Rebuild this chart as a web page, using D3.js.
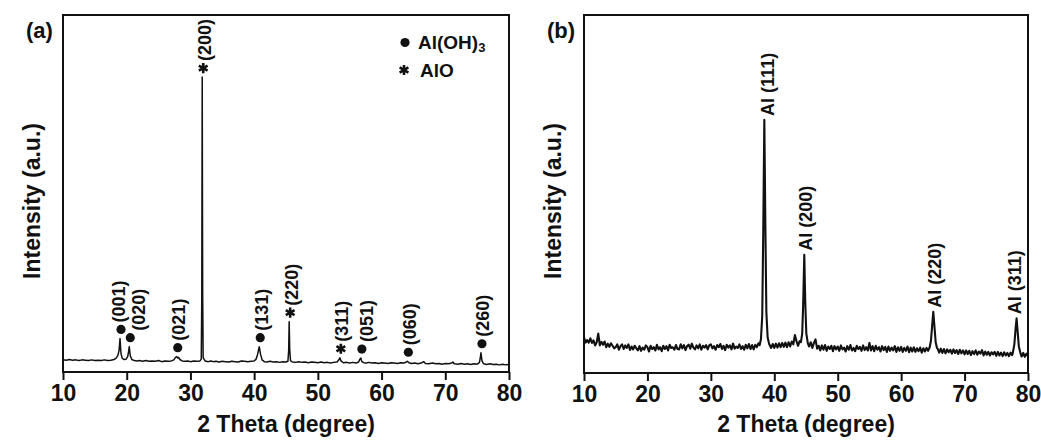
<!DOCTYPE html>
<html>
<head>
<meta charset="utf-8">
<script src="https://cdn.jsdelivr.net/npm/d3@7"></script>
<style>
  html, body { margin: 0; padding: 0; background: #fff; }
  svg { display: block; font-family: "Liberation Sans", Arial, sans-serif; }
</style>
</head>
<body>
<svg id="chart" width="1041" height="443"></svg>
<script>
// ---------------------------------------------------------------
// X-ray diffraction patterns, 2θ from 10° to 80°, intensity in a.u.
// ---------------------------------------------------------------
const thetaTicks = [10, 20, 30, 40, 50, 60, 70, 80];

// (a) scan: [2θ, intensity]
const scanA = [
  [10.0,3.4],[10.5,3.3],[11.0,3.5],[11.5,3.3],[12.0,3.4],[12.5,3.2],[13.0,3.4],[13.5,3.3],
  [14.0,3.2],[14.5,3.4],[15.0,3.2],[15.5,3.3],[16.0,3.2],[16.5,3.4],[17.0,3.2],[17.5,3.3],
  [18.0,3.5],[18.3,3.8],[18.6,4.6],[18.8,6.0],[18.95,9.4],[19.1,5.2],[19.3,3.8],[19.6,3.5],
  [19.9,3.6],[20.15,4.3],[20.3,5.8],[20.4,7.1],[20.55,4.6],[20.8,3.5],[21.2,3.2],[21.6,3.1],
  [22.0,3.2],[22.5,3.0],[23.0,3.2],[23.5,3.0],[24.0,3.1],[24.5,3.0],[25.0,3.2],[25.5,2.9],
  [26.0,3.1],[26.5,3.0],[27.0,3.1],[27.4,3.4],[27.65,4.1],[27.85,4.3],[28.0,3.9],[28.15,4.1],
  [28.35,3.5],[28.7,3.1],[29.2,3.0],[29.6,3.1],[30.0,2.9],[30.5,3.1],[31.0,3.0],[31.5,3.1],
  [31.7,3.6],[31.78,20],[31.85,82.6],[31.92,22],[32.0,4.0],[32.3,3.1],[32.8,2.9],[33.2,3.1],
  [33.6,2.9],[34.0,3.0],[34.5,2.8],[35.0,3.0],[35.5,2.9],[36.0,2.8],[36.5,3.0],[37.0,2.9],
  [37.5,2.8],[38.0,3.1],[38.5,3.0],[39.0,2.9],[39.5,3.0],[40.0,3.1],[40.3,3.6],[40.55,5.0],
  [40.8,7.1],[41.0,5.0],[41.25,3.4],[41.6,2.9],[42.0,2.8],[42.5,3.0],[43.0,2.8],[43.5,2.9],
  [44.0,2.7],[44.5,2.9],[45.0,2.8],[45.3,3.0],[45.42,6.0],[45.5,14.1],[45.58,6.5],[45.7,3.2],
  [46.0,2.8],[46.5,2.7],[47.0,2.9],[47.5,2.7],[48.0,2.8],[48.5,2.6],[49.0,2.8],[49.5,2.7],
  [50.0,2.6],[50.5,2.8],[51.0,2.6],[51.5,2.7],[52.0,2.5],[52.5,2.7],[53.0,2.8],[53.3,3.4],
  [53.45,4.0],[53.6,3.2],[54.0,2.6],[54.5,2.7],[55.0,2.5],[55.5,2.7],[56.0,2.5],[56.4,2.8],
  [56.6,3.6],[56.75,3.9],[56.9,2.9],[57.2,2.6],[57.6,2.5],[58.0,2.7],[58.5,2.5],[59.0,2.6],
  [59.5,2.4],[60.0,2.6],[60.5,2.5],[61.0,2.4],[61.5,2.6],[62.0,2.5],[62.5,2.4],[63.0,2.6],
  [63.5,2.5],[63.9,2.8],[64.05,3.0],[64.3,2.6],[64.7,2.4],[65.2,2.5],[65.7,2.3],[66.2,2.5],
  [66.6,2.9],[66.9,2.4],[67.4,2.3],[68.0,2.5],[68.5,2.3],[69.0,2.4],[69.5,2.2],[70.0,2.4],
  [70.5,2.3],[71.0,2.5],[71.2,2.8],[71.4,2.3],[72.0,2.2],[72.5,2.4],[73.0,2.2],[73.5,2.3],
  [74.0,2.1],[74.5,2.3],[75.0,2.2],[75.35,2.6],[75.5,4.0],[75.6,5.4],[75.75,3.2],[76.0,2.3],
  [76.5,2.1],[77.0,2.3],[77.5,2.1],[78.0,2.2],[78.5,2.0],[79.0,2.2],[79.5,2.0],[80.0,2.1]
];

// (a) indexed reflections: phase, Miller indices, 2θ, peak intensity
const phasesA = ["hydroxide", "hydroxide", "hydroxide", "oxide", "hydroxide", "oxide", "oxide", "hydroxide", "hydroxide", "hydroxide"];
const hklA    = ["(001)", "(020)", "(021)", "(200)", "(131)", "(220)", "(311)", "(051)", "(060)", "(260)"];
const thetaA  = [18.95, 20.4, 27.85, 31.85, 40.8, 45.5, 53.45, 56.75, 64.05, 75.6];
const topA    = [9.4, 7.1, 4.3, 82.6, 7.1, 14.1, 4.0, 3.9, 3.0, 5.4];

// (b) background samples every 0.25° from 10° to 80°
const stepB = 0.25;
const backgroundB = [
  10.0,8.5,9.2,8.5,9.7,8.4,9.1,7.7,8.6,11.0,7.7,8.7,7.9,8.8,7.2,8.2,7.3,8.3,7.6,6.9,
  7.2,8.0,6.5,7.5,8.0,6.7,7.7,7.0,8.0,6.4,7.4,6.6,7.6,6.9,6.3,7.5,6.2,7.1,6.5,7.7,
  7.2,6.0,7.6,6.7,7.2,6.3,7.9,6.6,7.2,6.1,7.6,6.7,7.5,6.3,7.9,7.0,7.2,6.5,7.8,6.7,
  6.6,8.0,6.9,7.8,6.4,7.5,7.9,6.8,8.2,7.1,6.6,7.7,6.9,8.0,6.5,7.6,7.1,7.8,6.6,7.7,
  8.0,6.9,7.5,6.5,7.8,7.2,8.1,6.7,7.6,6.4,7.9,7.1,7.7,6.6,8.2,6.8,7.4,7.0,8.0,6.7,
  7.5,6.5,7.9,6.9,8.1,6.7,7.8,6.6,7.9,7.2,8.3,7.6,12,40,65,20,9.0,7.9,7.0,8.1,
  7.0,8.2,7.1,8.3,7.2,8.4,7.3,8.5,7.2,8.6,7.4,8.8,8.0,10.6,8.9,7.6,8.9,9.5,16,32,
  14,9.0,7.4,8.6,7.0,8.4,9.4,6.8,7.6,6.3,7.7,6.5,7.8,6.2,7.4,6.7,7.6,6.1,7.5,6.6,
  7.4,6.2,7.7,6.6,7.1,6.0,7.5,6.5,7.8,6.3,7.0,6.1,7.6,6.7,7.3,6.2,7.7,6.4,7.2,6.3,
  8.4,6.3,7.5,6.1,7.6,6.5,7.2,6.0,7.5,6.4,7.3,5.9,7.4,6.2,7.1,6.3,7.5,5.9,7.2,6.2,
  7.3,5.9,7.0,6.2,7.4,5.8,7.1,6.0,7.2,5.9,6.9,6.1,7.1,5.7,6.9,6.0,7.0,6.2,7.5,11,
  16,12,7.0,6.8,5.7,6.8,5.6,6.7,5.5,6.6,5.8,6.5,5.4,6.6,5.6,6.4,5.3,6.5,5.5,6.3,
  5.2,6.3,5.3,6.2,5.0,6.1,5.3,6.3,5.1,6.0,5.4,6.4,4.9,6.0,5.1,5.9,4.9,5.8,5.2,5.9,
  4.8,5.9,4.9,5.7,4.7,5.8,4.9,5.6,4.7,5.7,5.0,7.0,12,15,9.0,5.8,4.6,5.6,4.5,5.4,
  4.7
];

// (b) Al reflections, each profile as [2θ, intensity]
const hklB = ["Al (111)", "Al (200)", "Al (220)", "Al (311)"];
const profilesB = [
  [[37.7,7.8],[37.9,9.5],[38.1,16],[38.25,38],[38.43,70.7],[38.6,40],[38.75,17],[38.95,10],[39.2,8.0]],
  [[44.2,8.6],[44.4,11],[44.55,19],[44.73,33.0],[44.88,20],[45.05,11],[45.3,8.2]],
  [[64.5,7.2],[64.7,9.0],[64.9,13.5],[65.07,17.1],[65.25,13],[65.45,8.5],[65.65,7.0]],
  [[77.6,5.6],[77.85,8.0],[78.05,12.5],[78.2,15.3],[78.35,12],[78.55,7.5],[78.8,5.6]]
];

// ---------------------------------------------------------------
const svg = d3.select("#chart");
const ink = "#111";

function panel(opts) {
  const x = d3.scaleLinear().domain([10, 80]).range([opts.left, opts.right]);
  const y = d3.scaleLinear().domain([0, 100]).range([opts.bottom, opts.top]);
  const g = svg.append("g");

  // pattern
  g.append("path")
    .datum(opts.scan)
    .attr("fill", "none")
    .attr("stroke", ink)
    .attr("stroke-width", opts.lineWidth)
    .attr("stroke-linejoin", "round")
    .attr("d", d3.line().x(d => x(d[0])).y(d => y(d[1])));

  // frame
  g.append("rect")
    .attr("x", opts.left).attr("y", opts.top)
    .attr("width", opts.right - opts.left).attr("height", opts.bottom - opts.top)
    .attr("fill", "none").attr("stroke", ink).attr("stroke-width", 2);

  // bottom axis
  const ax = g.append("g")
    .attr("transform", `translate(0,${opts.bottom})`)
    .call(d3.axisBottom(x).tickValues(thetaTicks).tickSize(8).tickSizeOuter(0).tickPadding(5).tickFormat(d3.format("d")));
  ax.select(".domain").remove();
  ax.selectAll(".tick line").attr("stroke", ink).attr("stroke-width", 2);
  ax.selectAll(".tick text")
    .attr("fill", ink)
    .style("font-size", "23px")
    .style("font-weight", "bold")
    .style("font-family", "'Liberation Sans', Arial, sans-serif");

  // axis titles
  g.append("text")
    .attr("x", (opts.left + opts.right) / 2).attr("y", 432)
    .attr("text-anchor", "middle")
    .style("font-size", "23px").style("font-weight", "bold").attr("fill", ink)
    .text("2 Theta (degree)");
  g.append("text")
    .attr("transform", `translate(${opts.left - 23},201) rotate(-90)`)
    .attr("text-anchor", "middle")
    .style("font-size", "23px").style("font-weight", "bold").attr("fill", ink)
    .text("Intensity (a.u.)");

  // panel letter
  g.append("text")
    .attr("x", opts.left - 37).attr("y", 38)
    .style("font-size", "22px").style("font-weight", "bold").attr("fill", ink)
    .text(opts.letter);

  return { g, x, y };
}

// ---------------- panel (a) ----------------
const A = panel({ left: 63, right: 509, top: 15, bottom: 372, scan: scanA, lineWidth: 1.5, letter: "(a)" });

const dot = d3.symbol().type(d3.symbolCircle).size(66);
const star = d3.symbol().type(d3.symbolAsterisk).size(72);
const labelShiftA = { "(001)": -4, "(020)": 7, "(051)": 4 };

hklA.forEach((hkl, i) => {
  const px = A.x(thetaA[i]);
  const py = A.y(topA[i]);
  const my = py - 9;
  if (phasesA[i] === "hydroxide") {
    A.g.append("path").attr("d", dot).attr("transform", `translate(${px + 1},${my})`).attr("fill", ink);
  } else {
    A.g.append("path").attr("d", star).attr("transform", `translate(${px + 1},${my})`)
      .attr("fill", "none").attr("stroke", ink).attr("stroke-width", 2.6);
  }
  const tx = px + 2 + (labelShiftA[hkl] || 0);
  A.g.append("text")
    .attr("transform", `translate(${tx},${my - 7}) rotate(-90)`)
    .attr("dy", "0.36em")
    .style("font-size", "18px").style("font-weight", "bold").attr("fill", ink)
    .text(hkl);
});

// legend
const lg = A.g.append("g");
lg.append("path").attr("d", dot).attr("transform", "translate(405,42.5)").attr("fill", ink);
const t1 = lg.append("text").attr("x", 418).attr("y", 49)
  .style("font-size", "19px").style("font-weight", "bold").attr("fill", ink);
t1.append("tspan").text("Al(OH)");
t1.append("tspan").attr("dy", 3).style("font-size", "13px").text("3");
lg.append("path").attr("d", star).attr("transform", "translate(404,70)")
  .attr("fill", "none").attr("stroke", ink).attr("stroke-width", 2.6);
lg.append("text").attr("x", 420).attr("y", 77)
  .style("font-size", "19px").style("font-weight", "bold").attr("fill", ink)
  .text("AlO");

// ---------------- panel (b) ----------------
const bgB = backgroundB.map((v, i) => [10 + i * stepB, v]);
const windowsB = profilesB.map(p => [p[0][0], p[p.length - 1][0]]);
const scanB = bgB
  .filter(d => !windowsB.some(w => d[0] >= w[0] && d[0] <= w[1]))
  .concat(...profilesB)
  .sort((a, b) => a[0] - b[0]);

const B = panel({ left: 584, right: 1028, top: 15, bottom: 373, scan: scanB, lineWidth: 2.1, letter: "(b)" });
const labelShiftB = [3, 1, 1, -2];

profilesB.forEach((p, i) => {
  const peak = p.reduce((m, d) => (d[1] > m[1] ? d : m));
  const px = B.x(peak[0]) + labelShiftB[i];
  const py = B.y(peak[1]) - 4;
  B.g.append("text")
    .attr("transform", `translate(${px},${py}) rotate(-90)`)
    .attr("dy", "0.36em")
    .style("font-size", "18px").style("font-weight", "bold").attr("fill", ink)
    .text(hklB[i]);
});
</script>
</body>
</html>
